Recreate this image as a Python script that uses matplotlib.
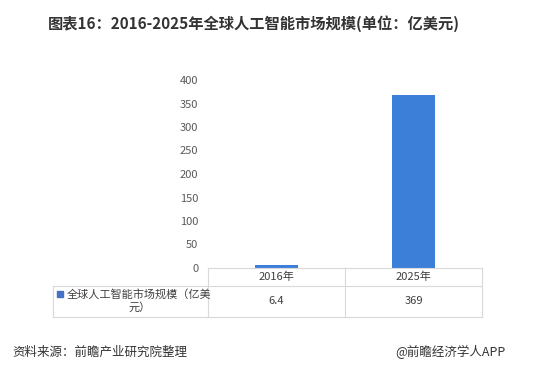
import matplotlib
matplotlib.use("Agg")
import matplotlib.pyplot as plt
from matplotlib.lines import Line2D
from matplotlib.patches import Rectangle

plt.rcParams['font.family'] = ['Noto Sans CJK SC', 'DejaVu Sans']

categories = ["2016年", "2025年"]
values = [6.4, 369]
value_labels = ["6.4", "369"]
series_name = "全球人工智能市场规模（亿美\n元）"
yticks = [0, 50, 100, 150, 200, 250, 300, 350, 400]

W, H = 554, 366
fig = plt.figure(figsize=(W / 100, H / 100), dpi=100)
fig.patch.set_facecolor("white")

def fx(px):
    return px / W

def fy(py):
    return 1 - py / H

# plot area in pixels
x0, x1 = 208, 482
y_top, y_base = 80, 268
ax = fig.add_axes([fx(x0), fy(y_base), fx(x1) - fx(x0), fy(y_top) - fy(y_base)])
ax.bar(range(len(values)), values, width=0.32, color="#3b7fd9")
ax.set_xlim(-0.5, len(values) - 0.5)
ax.set_ylim(0, 400)
ax.set_yticks(yticks)
ax.set_yticklabels([str(t) for t in yticks], fontsize=8, color="#595959")
ax.tick_params(axis="y", length=0, pad=7)
ax.set_xticks([])
for s in ax.spines.values():
    s.set_visible(False)

# data table under the chart
grid = "#d9d9d9"
col_l = 53
col_edges = [x0, x0 + (x1 - x0) / 2, x1]
row_edges = [268, 286, 317]

def hline(y, xa, xb):
    fig.add_artist(Line2D([fx(xa), fx(xb)], [fy(y), fy(y)], color=grid, lw=0.8))

def vline(x, ya, yb):
    fig.add_artist(Line2D([fx(x), fx(x)], [fy(ya), fy(yb)], color=grid, lw=0.8))

hline(row_edges[0], x0, x1)
hline(row_edges[1], col_l, x1)
hline(row_edges[2], col_l, x1)
vline(col_l, row_edges[1], row_edges[2])
for x in col_edges:
    vline(x, row_edges[0], row_edges[2])

for i, cat in enumerate(categories):
    cx = (col_edges[i] + col_edges[i + 1]) / 2
    fig.text(fx(cx), fy((row_edges[0] + row_edges[1]) / 2), cat,
             ha="center", va="center", fontsize=8, color="#404040")
    fig.text(fx(cx), fy((row_edges[1] + row_edges[2]) / 2), value_labels[i],
             ha="center", va="center", fontsize=8, color="#404040")

fig.add_artist(Rectangle((fx(57), fy(297)), fx(6), 6 / H, color="#4472c4"))
fig.text(fx(67), fy(301), series_name, ha="left", va="center",
         fontsize=8, color="#404040", multialignment="center", linespacing=1.3)

fig.text(fx(254), fy(24), "图表16：2016-2025年全球人工智能市场规模(单位：亿美元)",
         ha="center", va="center", fontsize=11, fontweight="bold", color="#333333")

fig.text(fx(12), fy(352), "资料来源：前瞻产业研究院整理", ha="left", va="center",
         fontsize=9, color="#333333")
fig.text(fx(505), fy(352), "@前瞻经济学人APP", ha="right", va="center",
         fontsize=9, color="#333333")

fig.savefig("out.png", dpi=100)
